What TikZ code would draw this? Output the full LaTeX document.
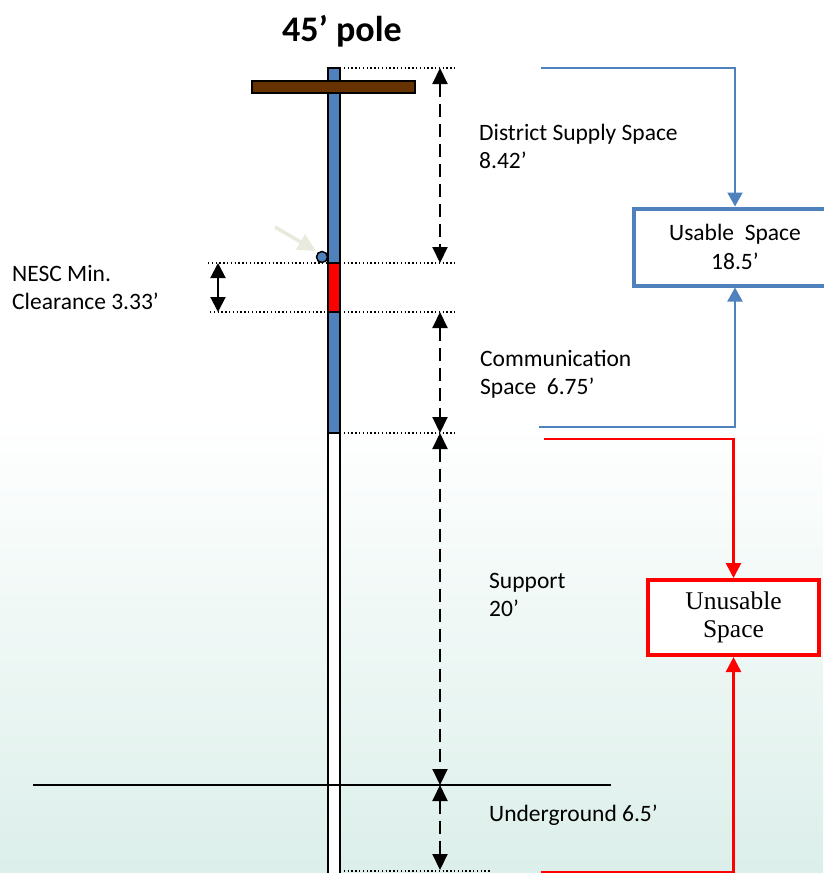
\documentclass[tikz,border=0pt]{standalone}
\usepackage{fontspec}
\setmainfont{Carlito}
\newfontfamily\boxfont{Liberation Serif}
\usetikzlibrary{arrows.meta,positioning,calc}
\definecolor{poleBlue}{HTML}{4F81BD}
\definecolor{armBrown}{HTML}{663300}
\definecolor{linkBlue}{HTML}{4F81BD}
\definecolor{linkRed}{HTML}{FF0000}
\definecolor{bgMint}{HTML}{DCEFEA}
\definecolor{pointGrey}{HTML}{E9E9DE}
\tikzset{
  polepart/.style={draw=black, line width=1.5pt},
  guide/.style={line width=1.2pt, dash pattern=on 1.3pt off 2.5pt, black},
  dimarrow/.style={{Triangle[length=16pt,width=15pt]}-{Triangle[length=16pt,width=15pt]}, line width=2pt, dash pattern=on 13pt off 7pt},
  clearance/.style={{Triangle[length=15pt,width=15pt]}-{Triangle[length=15pt,width=15pt]}, line width=2pt},
  spacetext/.style={font=\fontsize{23.5}{28}\selectfont, align=left, anchor=west, inner sep=0pt},
  spacebox/.style={draw, line width=4pt, align=center, inner sep=0pt, fill=white},
  usablelink/.style={-{Triangle[length=14pt,width=15pt]}, linkBlue, line width=2pt},
  unusablelink/.style={-{Triangle[length=15pt,width=15pt]}, linkRed, line width=2.5pt}
}
\begin{document}
\begin{tikzpicture}[x=1pt,y=-1pt]
  \useasboundingbox (0,0) rectangle (823,873);
  \fill[white] (0,0) rectangle (823,873);
  \shade[top color=white, bottom color=bgMint] (0,420) rectangle (823,873);

  \node[font=\fontsize{36}{40}\selectfont\bfseries] (title) at (342,31) {45’ pole};

  % pole
  \draw[polepart, fill=white] (328,433) rectangle (340,880);
  \draw[polepart, fill=poleBlue] (328,68) rectangle (340,433);
  \draw[polepart, fill=red] (328,263) rectangle (340,312);
  \draw[polepart, fill=armBrown] (252,81) rectangle (415,93);
  \draw[line width=1.5pt, fill=poleBlue] (322,257) circle (5.5);
  \draw[-{Triangle[length=18pt,width=17pt]}, line width=3.5pt, pointGrey] (275,227) -- (316,251);
  \draw[line width=1.2pt] (33,785) -- (611,785);

  % guides
  \draw[guide] (340,68) -- (455,68);
  \draw[guide] (208,263) -- (328,263) (340,263) -- (455,263);
  \draw[guide] (210,312) -- (328,312) (340,312) -- (455,312);
  \draw[guide] (340,433) -- (455,433);
  \draw[guide] (340,871) -- (491,871);

  \coordinate (topend) at (440,68);
  \coordinate (supplyend) at (440,263);
  \coordinate (commtop) at (440,312);
  \coordinate (commend) at (440,433);
  \coordinate (groundlvl) at (440,785);
  \coordinate (butt) at (440,870);
  \draw[dimarrow] (topend) -- (supplyend);
  \draw[dimarrow] (commtop) -- (commend);
  \draw[dimarrow] (commend) -- (groundlvl);
  \draw[dimarrow] (groundlvl) -- (butt);
  \draw[clearance] (218,263) -- (218,312);

  \node[spacetext] (supply) at (479,146) {District Supply Space\\8.42’};
  \node[spacetext] (nesc) at (12,288) {NESC Min.\\Clearance 3.33’};
  \node[spacetext] (comm) at (480,374) {Communication\\Space~~6.75’};
  \node[spacetext] (support) at (489,595) {Support\\20’};
  \node[spacetext] (under) at (489,815) {Underground 6.5’};

  % space boxes
  \node[spacebox, draw=linkBlue, minimum width=202pt, minimum height=77pt,
    font=\fontsize{23.5}{29}\selectfont] (usable) at (735,247) {Usable~~Space\\18.5’};
  \node[spacebox, draw=linkRed, minimum width=171pt, minimum height=75pt,
    font=\boxfont\fontsize{25.5}{28}\selectfont] (unusable) at (733.5,617.5) {Unusable\\Space};

  \coordinate (supplyfeed) at (541,68);
  \coordinate (commfeed) at (539,427);
  \coordinate (supportfeed) at (544,439);
  \coordinate (underfeed) at (541,872);
  \draw[usablelink] (supplyfeed) -| (usable.north);
  \draw[usablelink] (commfeed) -| (usable.south);
  \draw[unusablelink] (supportfeed) -| (unusable.north);
  \draw[unusablelink] (underfeed) -| (unusable.south);
\end{tikzpicture}
\end{document}
